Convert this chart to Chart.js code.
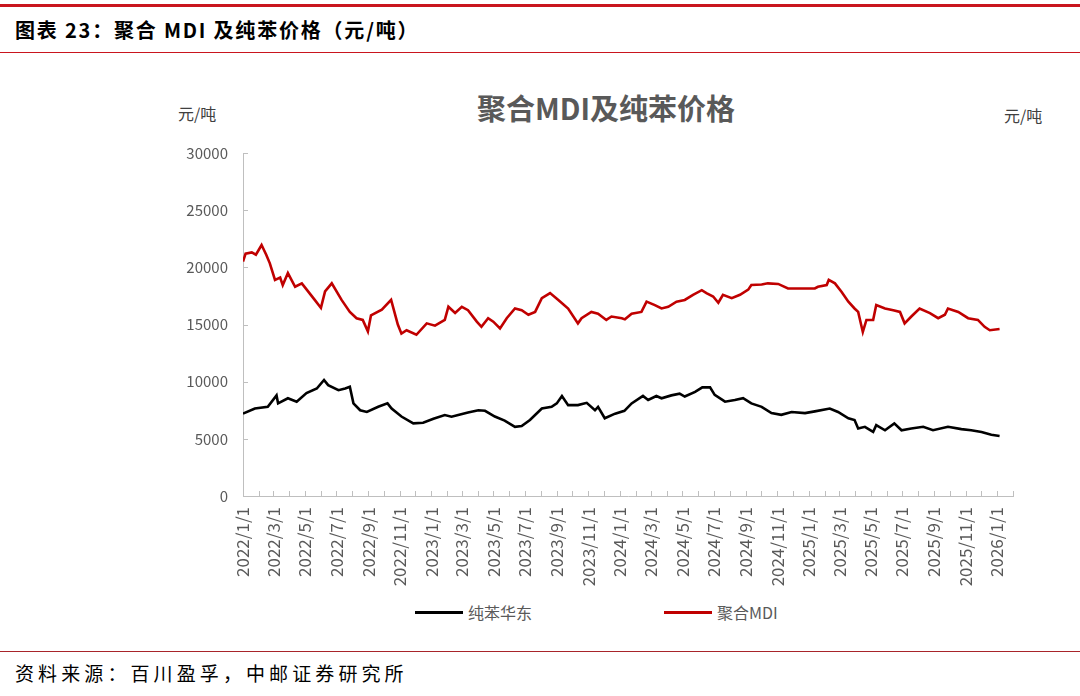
<!DOCTYPE html>
<html>
<head>
<meta charset="utf-8">
<script src="https://cdn.jsdelivr.net/npm/chart.js@4.4.1/dist/chart.umd.min.js"></script>
<style>
  body { margin: 0; width: 1080px; height: 696px; position: relative; background: #fff; overflow: hidden;
         font-family: "Noto Sans CJK SC", "Noto Sans", sans-serif; }
  .rule-top { position: absolute; left: 0; top: 4px; width: 1080px; height: 3px; background: #c9151e; }
  .rule-mid { position: absolute; left: 0; top: 52px; width: 1080px; height: 1px; background: #c9151e; }
  .rule-foot { position: absolute; left: 0; top: 651px; width: 1080px; height: 1px; background: #a8242a; }
  .head { position: absolute; left: 15px; top: 16px; font-size: 20px; font-weight: 700; letter-spacing: 1.8px; line-height: 28px; color: #000; }
  .foot { position: absolute; left: 15px; top: 659px; font-size: 19px; letter-spacing: 4.1px; line-height: 28px; color: #000; }
  .chart-title { position: absolute; left: 0; width: 1212px; top: 88px; text-align: center; font-size: 29px; font-weight: 700; line-height: 38px; color: #595959; }
  .unit { position: absolute; font-size: 16px; line-height: 20px; color: #404040; }
  #wrap { position: absolute; left: 0; top: 55px; width: 1080px; height: 545px; }
  #legend { position: absolute; left: 415px; top: 601px; display: flex; gap: 132px; font-size: 16px; line-height: 22px; color: #595959; }
  #legend .item { display: flex; align-items: center; }
  #legend .swatch { width: 48px; height: 3px; margin-right: 5px; }
</style>
</head>
<body>
<div class="rule-top"></div>
<div class="head">图表 23：聚合 MDI 及纯苯价格（元/吨）</div>
<div class="rule-mid"></div>
<div class="chart-title">聚合MDI及纯苯价格</div>
<div class="unit" style="left:178px;top:103px">元/吨</div>
<div class="unit" style="left:1004px;top:105px">元/吨</div>
<div id="wrap"><canvas id="c"></canvas></div>
<div id="legend"></div>
<div class="rule-foot"></div>
<div class="foot">资料来源：百川盈孚，中邮证券研究所</div>
<script>
const seriesNames = ["纯苯华东", "聚合MDI"];

const benzeneDates = [
  "2022-01-01", "2022-01-24", "2022-02-18", "2022-03-07", "2022-03-10", "2022-03-29", "2022-04-15", "2022-05-04",
  "2022-05-24", "2022-06-07", "2022-06-15", "2022-07-05", "2022-07-18", "2022-07-27", "2022-08-03", "2022-08-16",
  "2022-08-29", "2022-09-20", "2022-10-08", "2022-10-16", "2022-11-04", "2022-11-27", "2022-12-16",
  "2023-01-05", "2023-01-27", "2023-02-09", "2023-02-22", "2023-03-13", "2023-04-02", "2023-04-15", "2023-05-04",
  "2023-05-23", "2023-06-12", "2023-06-25", "2023-07-11", "2023-08-03", "2023-08-22", "2023-09-01", "2023-09-11",
  "2023-09-23", "2023-10-12", "2023-10-29", "2023-11-14", "2023-11-20", "2023-12-03", "2023-12-23",
  "2024-01-10", "2024-01-24", "2024-02-15", "2024-02-25", "2024-03-12", "2024-03-22", "2024-04-10", "2024-04-26",
  "2024-05-06", "2024-05-26", "2024-06-09", "2024-06-24", "2024-07-03", "2024-07-23", "2024-08-11", "2024-08-27",
  "2024-09-12", "2024-10-02", "2024-10-21", "2024-11-09", "2024-11-29", "2024-12-25",
  "2025-01-13", "2025-02-11", "2025-02-27", "2025-03-19", "2025-03-31", "2025-04-07", "2025-04-20", "2025-05-06",
  "2025-05-12", "2025-05-29", "2025-06-16", "2025-06-30", "2025-07-19", "2025-08-11", "2025-08-30", "2025-09-28",
  "2025-10-24", "2025-11-12", "2025-12-02", "2025-12-21", "2026-01-06"
];
const benzeneValues = [
  7200, 7650, 7800, 8800, 8100, 8550, 8250, 9000,
  9400, 10150, 9700, 9250, 9400, 9550, 8100, 7500,
  7350, 7800, 8100, 7650, 6950, 6350, 6400,
  6750, 7080, 6940, 7080, 7300, 7500, 7450, 6950,
  6600, 6050, 6120, 6650, 7650, 7800, 8100, 8750,
  7950, 7950, 8150, 7500, 7800, 6800, 7200,
  7450, 8100, 8750, 8400, 8750, 8550, 8800, 8950,
  8700, 9100, 9500, 9500, 8850, 8250, 8400, 8550,
  8100, 7800, 7250, 7100, 7350, 7250,
  7400, 7650, 7350, 6800, 6650, 5900, 6050, 5600,
  6200, 5750, 6350, 5750, 5900, 6050, 5750, 6050,
  5850, 5750, 5600, 5350, 5250
];

const mdiDates = [
  "2022-01-01", "2022-01-06", "2022-01-18", "2022-01-26", "2022-02-06", "2022-02-15", "2022-02-22", "2022-03-04",
  "2022-03-14", "2022-03-19", "2022-03-29", "2022-04-12", "2022-04-25", "2022-05-20", "2022-06-01", "2022-06-09",
  "2022-06-22", "2022-07-11", "2022-07-27", "2022-08-09", "2022-08-21", "2022-08-31", "2022-09-06", "2022-09-27",
  "2022-10-15", "2022-10-28", "2022-11-04", "2022-11-14", "2022-12-03", "2022-12-23",
  "2023-01-08", "2023-01-27", "2023-02-03", "2023-02-16", "2023-03-01", "2023-03-13", "2023-03-30", "2023-04-08",
  "2023-04-21", "2023-05-01", "2023-05-14", "2023-05-27", "2023-06-12", "2023-06-25", "2023-07-08", "2023-07-21",
  "2023-08-03", "2023-08-19", "2023-09-04", "2023-09-23", "2023-10-12", "2023-10-19", "2023-11-07", "2023-11-20",
  "2023-12-06", "2023-12-16",
  "2024-01-05", "2024-01-11", "2024-01-24", "2024-02-12", "2024-02-22", "2024-03-09", "2024-03-22", "2024-04-04",
  "2024-04-20", "2024-05-06", "2024-05-22", "2024-06-08", "2024-06-17", "2024-06-30", "2024-07-10", "2024-07-19",
  "2024-08-05", "2024-08-21", "2024-09-06", "2024-09-12", "2024-10-02", "2024-10-14", "2024-11-03", "2024-11-22",
  "2024-12-12",
  "2025-01-13", "2025-01-19", "2025-02-05", "2025-02-09", "2025-02-21", "2025-03-06", "2025-03-19", "2025-03-31",
  "2025-04-07", "2025-04-16", "2025-04-23", "2025-05-06", "2025-05-12", "2025-05-29", "2025-06-14", "2025-06-27",
  "2025-07-06", "2025-07-19", "2025-08-04", "2025-08-24", "2025-09-09", "2025-09-22", "2025-09-28", "2025-10-18",
  "2025-11-06", "2025-11-25", "2025-12-08", "2025-12-18", "2026-01-06"
];
const mdiValues = [
  20500, 21200, 21300, 21100, 21950, 21100, 20350, 18900,
  19100, 18450, 19500, 18300, 18600, 17150, 16450, 17900,
  18600, 17150, 16100, 15550, 15400, 14400, 15800, 16300,
  17150, 15000, 14200, 14500, 14100, 15100,
  14900, 15400, 16550, 16000, 16550, 16250, 15250, 14800,
  15550, 15250, 14650, 15550, 16400, 16250, 15850, 16100,
  17300, 17750, 17150, 16400, 15100, 15550, 16100, 15950,
  15400, 15700,
  15550, 15450, 15950, 16100, 17000, 16700, 16400, 16550,
  17000, 17150, 17600, 18000, 17750, 17450, 16900, 17600,
  17300, 17600, 18050, 18450, 18500, 18600, 18550, 18150,
  18150,
  18150, 18300, 18450, 18900, 18600, 17850, 17000, 16400,
  16100, 14350, 15400, 15400, 16700, 16400, 16250, 16100,
  15100, 15700, 16400, 16000, 15550, 15850, 16400, 16100,
  15550, 15400, 14800, 14500, 14600
];

const xTickLabels = [
  "2022/1/1", "2022/3/1", "2022/5/1", "2022/7/1", "2022/9/1", "2022/11/1",
  "2023/1/1", "2023/3/1", "2023/5/1", "2023/7/1", "2023/9/1", "2023/11/1",
  "2024/1/1", "2024/3/1", "2024/5/1", "2024/7/1", "2024/9/1", "2024/11/1",
  "2025/1/1", "2025/3/1", "2025/5/1", "2025/7/1", "2025/9/1", "2025/11/1",
  "2026/1/1"
];
const yTicks = [0, 5000, 10000, 15000, 20000, 25000, 30000];
const colors = ["#000000", "#c00000"];

const DAY = 86400000;
const origin = Date.UTC(2022, 0, 1);
function dayOf(s) {
  const p = s.split(/[-\/]/).map(Number);
  return Math.round((Date.UTC(p[0], p[1] - 1, p[2]) - origin) / DAY);
}

// month starts for the small ticks, Jan 2022 .. Feb 2026
const monthTicks = [];
for (let y = 2022, m = 0; ; m++) {
  if (m > 11) { m = 0; y++; }
  monthTicks.push(Math.round((Date.UTC(y, m, 1) - origin) / DAY));
  if (y === 2026 && m === 1) break;
}
const xMax = monthTicks[monthTicks.length - 1];
const labelByDay = {};
xTickLabels.forEach(l => { labelByDay[dayOf(l)] = l; });

const toPoints = (dates, vals) => dates.map((d, i) => ({ x: dayOf(d), y: vals[i] }));

const innerTicks = {
  id: "innerTicks",
  beforeDatasetsDraw(chart) {
    const { ctx, chartArea: a, scales: { x, y } } = chart;
    ctx.save();
    ctx.strokeStyle = "#bfbfbf";
    ctx.lineWidth = 1;
    ctx.beginPath();
    monthTicks.forEach(v => {
      const px = Math.round(x.getPixelForValue(v)) + 0.5;
      ctx.moveTo(px, a.bottom);
      ctx.lineTo(px, a.bottom - 5);
    });
    yTicks.forEach(v => {
      const py = Math.round(y.getPixelForValue(v)) + 0.5;
      ctx.moveTo(a.left, py);
      ctx.lineTo(a.left + 5, py);
    });
    ctx.stroke();
    ctx.restore();
  }
};

const chart = new Chart(document.getElementById("c"), {
  type: "line",
  data: {
    datasets: [
      { label: seriesNames[0], data: toPoints(benzeneDates, benzeneValues), borderColor: colors[0], backgroundColor: colors[0] },
      { label: seriesNames[1], data: toPoints(mdiDates, mdiValues), borderColor: colors[1], backgroundColor: colors[1] }
    ]
  },
  options: {
    responsive: true,
    maintainAspectRatio: false,
    animation: false,
    layout: { padding: { top: 98, right: 67, left: 0, bottom: 0 } },
    elements: { point: { radius: 0 }, line: { borderWidth: 2.6, tension: 0 } },
    plugins: { legend: { display: false }, tooltip: { enabled: false } },
    scales: {
      x: {
        type: "linear",
        min: 0,
        max: xMax,
        afterBuildTicks: s => { s.ticks = monthTicks.map(v => ({ value: v })); },
        afterFit: s => { s.height = 104; },
        ticks: {
          autoSkip: false, maxRotation: 90, minRotation: 90, padding: 11,
          color: "#595959", font: { size: 17, family: "Noto Sans CJK SC" },
          callback: v => labelByDay[v] || ""
        },
        grid: { display: false, drawTicks: false },
        border: { display: true, color: "#bfbfbf", width: 1 }
      },
      y: {
        min: 0,
        max: 30000,
        afterBuildTicks: s => { s.ticks = yTicks.map(v => ({ value: v })); },
        afterFit: s => { s.width = 243; },
        ticks: { padding: 15, color: "#595959", font: { size: 15, family: "Noto Sans CJK SC" }, callback: v => String(v) },
        grid: { display: false, drawTicks: false },
        border: { display: true, color: "#bfbfbf", width: 1 }
      }
    }
  },
  plugins: [innerTicks]
});

document.getElementById("legend").innerHTML = chart.data.datasets
  .map(ds => `<div class="item"><span class="swatch" style="background:${ds.borderColor}"></span>${ds.label}</div>`)
  .join("");
</script>
</body>
</html>
